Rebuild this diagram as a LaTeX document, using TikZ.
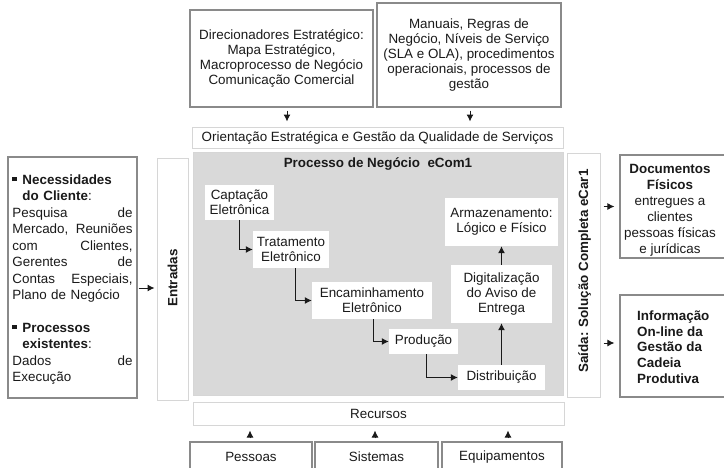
\documentclass[tikz,border=0pt]{standalone}
\usepackage{fontspec}
\setmainfont{Liberation Sans}
\usetikzlibrary{arrows.meta}

\definecolor{boxline}{HTML}{8A8A8A}
\definecolor{softline}{HTML}{D6D6D6}
\definecolor{procfill}{HTML}{D9D9D9}
\definecolor{ink}{HTML}{1A1A1A}

\newcommand{\sqbullet}{\rule[3pt]{4.2pt}{4.2pt}}
\newcommand{\fullline}[2]{\leavevmode\hbox to 120pt{#1\hfill #2}}

\begin{document}
\begin{tikzpicture}[x=1pt,y=-1pt,
  every node/.style={font=\fontsize{13.4}{15}\selectfont, text=ink, inner sep=0pt, align=center},
  hardbox/.style={draw=boxline, line width=1.2pt, fill=white},
  softbox/.style={draw=softline, line width=1pt, fill=white},
  stagebox/.style={fill=white},
  flow/.style={draw=ink, line width=1pt, -{Latex[length=7pt,width=7pt]}},
  feed/.style={draw=ink, line width=1pt, -{Latex[length=7pt,width=7pt]}, shorten <=3pt, shorten >=5pt}
]
\useasboundingbox (0,0) rectangle (724,467);
\fill[white] (0,0) rectangle (724,467);
\begin{scope}
\clip (0,0) rectangle (724,467);

% strategic drivers and norms
\node[hardbox, minimum width=183, minimum height=97] (dir) at (281.5,58.5)
  {Direcionadores Estratégico:\\Mapa Estratégico,\\Macroprocesso de Negócio\\Comunicação Comercial};
\node[hardbox, minimum width=184, minimum height=104] (man) at (469,55)
  {Manuais, Regras de\\Negócio, Níveis de Serviço\\(SLA e OLA), procedimentos\\operacionais, processos de\\gestão};

% orientation band, process area, resources band
\node[softbox, minimum width=371, minimum height=21] (ori) at (377.5,137.5)
  {Orientação Estratégica e Gestão da Qualidade de Serviços};
\node[fill=procfill, draw=softline, line width=0.8pt, minimum width=370, minimum height=243] (proc) at (378,273.5) {};
\node[font=\fontsize{13.4}{15}\selectfont\bfseries] (title) at (378,164) {Processo de Negócio\ \ eCom1};
\node[softbox, minimum width=371, minimum height=23] (rec) at (378.5,413.5) {Recursos};

% resources
\node[hardbox, minimum width=122, minimum height=36] (pes) at (251,460) {};
\node (pestext) at (251,457) {Pessoas};
\node[hardbox, minimum width=123, minimum height=36] (sis) at (376.5,460) {};
\node (sistext) at (376.5,457) {Sistemas};
\node[hardbox, minimum width=120, minimum height=36] (equ) at (502,460) {};
\node (equtext) at (502,457) {Equipamentos};

% inputs
\node[hardbox, minimum width=129, minimum height=241] (nec) at (72.5,277.5) {};
\node[text width=120pt, align=left, font=\fontsize{13.4}{16.5}\selectfont] (nectext) at (72.5,279.5)
  {\makebox[10pt][l]{\sqbullet}\textbf{Necessidades}\\
   \hspace*{10pt}\textbf{do Cliente}:\\
   \fullline{Pesquisa}{de}\\
   \fullline{Mercado,}{Reuniões}\\
   \fullline{com}{Clientes,}\\
   \fullline{Gerentes}{de}\\
   \fullline{Contas}{Especiais,}\\
   Plano de Negócio\\[16pt]
   \makebox[10pt][l]{\sqbullet}\textbf{Processos}\\
   \hspace*{10pt}\textbf{existentes}:\\
   \fullline{Dados}{de}\\
   Execução};
\node[softbox, minimum width=31, minimum height=242] (ent) at (172.5,279) {};
\node[rotate=90, font=\fontsize{13.4}{15}\selectfont\bfseries] (enttext) at (172.5,278) {Entradas};

% outputs
\node[softbox, minimum width=33, minimum height=244] (sai) at (583.5,275) {};
\node[rotate=90, font=\fontsize{13.4}{15}\selectfont\bfseries] (saitext) at (584.5,271) {Saída: Solução Completa eCar1};
\node[hardbox, minimum width=108, minimum height=103] (doc) at (674,206.5) {};
\node[font=\fontsize{13.4}{16}\selectfont] (doctext) at (670,210)
  {\textbf{Documentos}\\\textbf{Físicos}\\entregues a\\clientes\\pessoas físicas\\e jurídicas};
\node[hardbox, minimum width=108, minimum height=102] (inf) at (674,346) {};
\node[align=left, font=\fontsize{13.4}{15.7}\selectfont\bfseries, anchor=west] (inftext) at (637,347)
  {Informação\\On-line da\\Gestão da\\Cadeia\\Produtiva};

% process stages
\node[stagebox, minimum width=69, minimum height=35] (cap) at (239.5,202.5) {Captação\\Eletrônica};
\node[stagebox, minimum width=76, minimum height=37] (tra) at (291,249.5) {Tratamento\\Eletrônico};
\node[stagebox, minimum width=120, minimum height=37] (enc) at (372,300.5) {Encaminhamento\\Eletrônico};
\node[stagebox, minimum width=69, minimum height=25] (pro) at (423.5,341.5) {Produção};
\node[stagebox, minimum width=87, minimum height=25] (dis) at (501.5,377.5) {Distribuição};
\node[stagebox, minimum width=101, minimum height=58] (dig) at (501.5,294) {Digitalização\\do Aviso de\\Entrega};
\node[stagebox, minimum width=113, minimum height=48] (arm) at (501.5,222) {Armazenamento:\\Lógico e Físico};

% stage flow
\draw[flow] (cap.south) |- (tra.west);
\draw[flow] ([xshift=4pt]tra.south) |- (enc.west);
\draw[flow] ([xshift=1pt]enc.south) |- (pro.west);
\draw[flow] ([xshift=2.5pt]pro.south) |- (dis.west);
\draw[flow] (dis.north) -- (dig.south);
\draw[flow] (dig.north) -- (arm.south);

% feeds into and out of the process
\draw[feed] ([xshift=5.5pt]dir.south) -- ([xshift=5.5pt]dir.south |- ori.north);
\draw[feed] ([xshift=1pt]man.south) -- ([xshift=1pt]man.south |- ori.north);
\coordinate (inrow) at (0,288);
\draw[feed, shorten <=1pt, shorten >=2pt] (nec.east |- inrow) -- (ent.west |- inrow);
\draw[feed] (sai.east |- doc.west) -- (doc.west);
\draw[feed] (sai.east |- 0,343) -- (inf.west |- 0,343);
\draw[feed] ([xshift=-1pt]pes.north) -- ([xshift=-1pt]pes.north |- rec.south);
\draw[feed] ([xshift=-1.5pt]sis.north) -- ([xshift=-1.5pt]sis.north |- rec.south);
\draw[feed] ([xshift=6pt]equ.north) -- ([xshift=6pt]equ.north |- rec.south);
\end{scope}
\end{tikzpicture}
\end{document}
